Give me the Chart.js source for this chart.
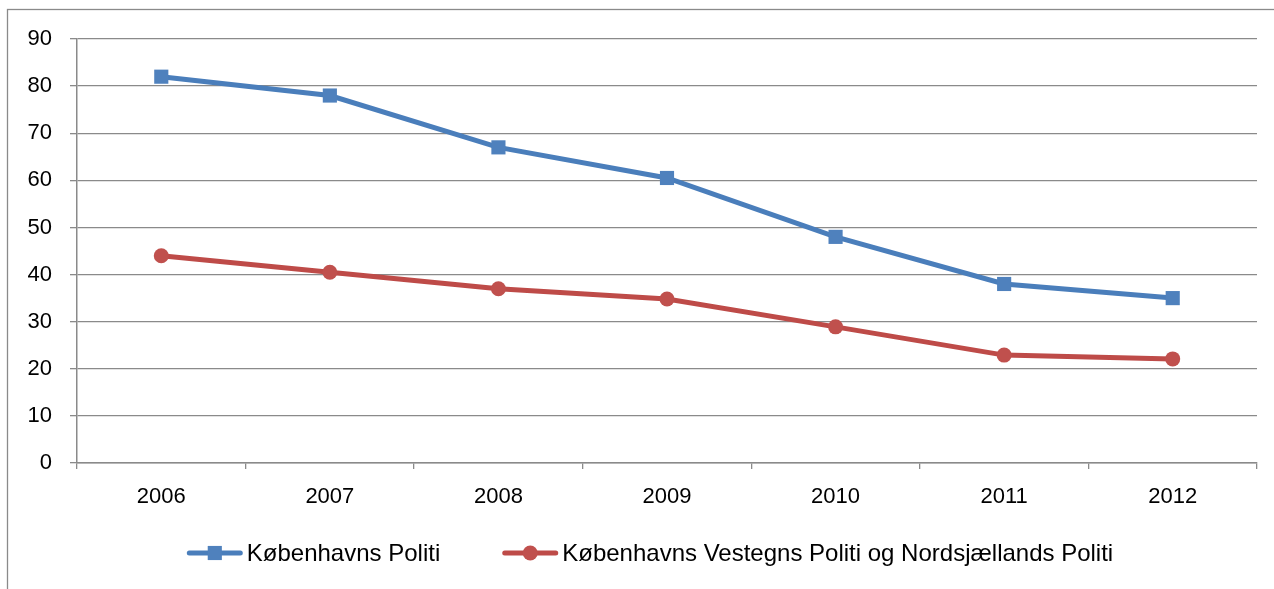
<!DOCTYPE html>
<html>
<head>
<meta charset="utf-8">
<script src="https://cdn.jsdelivr.net/npm/chart.js@4/dist/chart.umd.min.js"></script>
<style>
  html, body { margin: 0; padding: 0; background: #ffffff; }
  #wrap { width: 1274px; height: 589px; position: relative; }
</style>
</head>
<body>
<div id="wrap"><canvas id="c" width="1274" height="589"></canvas></div>
<script>
// ---- data ----
const years = ['2006', '2007', '2008', '2009', '2010', '2011', '2012'];
const kobenhavnsPoliti = [82, 78, 67, 60.5, 48, 38, 35];
const vestegnOgNordsjaelland = [44, 40.5, 37, 34.8, 28.9, 22.9, 22.1];
const seriesNames = ['Københavns Politi', 'Københavns Vestegns Politi og Nordsjællands Politi'];
const yMin = 0, yMax = 90, yStep = 10;

// ---- styles ----
const FONT = '"Liberation Sans", Arial, sans-serif';
const gridColor = '#8a8a8a';

const framePlugin = {
  id: 'frame',
  beforeDraw(chart) {
    const ctx = chart.ctx;
    ctx.save();
    ctx.fillStyle = '#ffffff';
    ctx.fillRect(0, 0, chart.width, chart.height);
    ctx.strokeStyle = gridColor;
    ctx.lineWidth = 1.3;
    ctx.strokeRect(7.5, 9.5, chart.width + 50, chart.height + 50);
    ctx.restore();
  }
};

const lineLegend = {
  id: 'lineLegend',
  afterDraw(chart, args, opts) {
    const ctx = chart.ctx;
    ctx.save();
    ctx.font = opts.fontSize + 'px ' + FONT;
    const items = chart.data.datasets.map(ds => ({
      ds,
      w: opts.iconWidth + opts.iconGap + ctx.measureText(ds.label).width
    }));
    const total = items.reduce((s, it) => s + it.w, 0) + opts.itemGap * (items.length - 1);
    let x = opts.centerX - total / 2;
    const y = chart.chartArea.bottom + opts.offsetY;
    items.forEach(it => {
      const ds = it.ds;
      ctx.strokeStyle = ds.borderColor;
      ctx.lineWidth = ds.borderWidth;
      ctx.lineCap = 'round';
      ctx.beginPath();
      ctx.moveTo(x + 2.5, y);
      ctx.lineTo(x + opts.iconWidth - 2.5, y);
      ctx.stroke();
      const cx = x + opts.iconWidth / 2;
      ctx.fillStyle = ds.pointBackgroundColor;
      ctx.beginPath();
      if (ds.pointStyle === 'rect') {
        const s = ds.pointRadius * Math.SQRT1_2;
        ctx.rect(cx - s, y - s, 2 * s, 2 * s);
      } else {
        ctx.arc(cx, y, ds.pointRadius, 0, Math.PI * 2);
      }
      ctx.fill();
      ctx.fillStyle = '#000000';
      ctx.textBaseline = 'middle';
      ctx.textAlign = 'left';
      ctx.fillText(ds.label, x + opts.iconWidth + opts.iconGap, y + 1);
      x += it.w + opts.itemGap;
    });
    ctx.restore();
  }
};

new Chart(document.getElementById('c'), {
  type: 'line',
  data: {
    labels: years,
    datasets: [
      {
        label: seriesNames[0],
        data: kobenhavnsPoliti,
        borderColor: '#4a7ebb',
        borderWidth: 5,
        pointStyle: 'rect',
        pointRadius: 10,
        pointBackgroundColor: '#4f81bd',
        pointBorderColor: '#4f81bd',
        pointBorderWidth: 0,
        tension: 0
      },
      {
        label: seriesNames[1],
        data: vestegnOgNordsjaelland,
        borderColor: '#be4b48',
        borderWidth: 5,
        pointStyle: 'circle',
        pointRadius: 7.5,
        pointBackgroundColor: '#c0504d',
        pointBorderColor: '#c0504d',
        pointBorderWidth: 0,
        tension: 0
      }
    ]
  },
  options: {
    responsive: false,
    animation: false,
    devicePixelRatio: 1,
    layout: { padding: { left: 0, top: 39, right: 17, bottom: 81 } },
    plugins: {
      legend: { display: false },
      tooltip: { enabled: false },
      title: { display: false },
      lineLegend: { fontSize: 24, iconWidth: 56, iconGap: 4, itemGap: 62, centerX: 650, offsetY: 90 }
    },
    scales: {
      x: {
        type: 'category',
        offset: true,
        grid: { offset: true, drawOnChartArea: false, drawTicks: true, tickLength: 6, color: gridColor, lineWidth: 1.3 },
        border: { display: true, color: gridColor, width: 1.5 },
        ticks: { color: '#000000', font: { family: FONT, size: 22 }, padding: 15, maxRotation: 0 },
        afterFit(scale) { scale.height = 45; }
      },
      y: {
        min: yMin,
        max: yMax,
        grid: { color: gridColor, lineWidth: 1.3, drawTicks: true, tickLength: 7 },
        border: { display: true, color: gridColor, width: 1.5 },
        ticks: { stepSize: yStep, color: '#000000', font: { family: FONT, size: 22 }, padding: 18 },
        afterFit(scale) { scale.width = 77; }
      }
    }
  },
  plugins: [framePlugin, lineLegend]
});
</script>
</body>
</html>
